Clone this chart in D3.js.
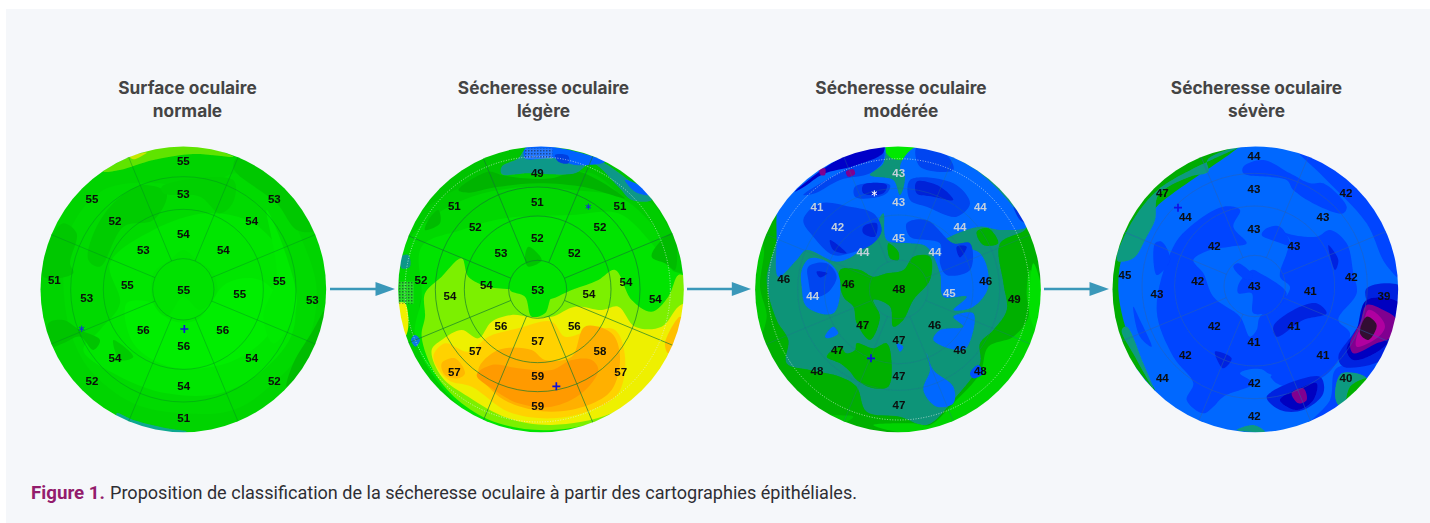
<!DOCTYPE html>
<html><head><meta charset="utf-8">
<script src="https://cdn.jsdelivr.net/npm/d3@7"></script>
<style>html,body{margin:0;padding:0;background:#fff}svg{display:block}</style>
</head><body><svg id="c" width="1430" height="523"></svg>
<script>
const titles=[["Surface oculaire","normale"],["Sécheresse oculaire","légère"],["Sécheresse oculaire","modérée"],["Sécheresse oculaire","sévère"]];
const captionLead="Figure 1.";
const captionText="Proposition de classification de la sécheresse oculaire à partir des cartographies épithéliales.";

const disc1Values=[[55,490,93],[53,490,190],[54,490,310],[55,216,205],[52,285,273],[53,370,360],[53,763,205],[54,695,273],[54,610,360],[51,103,448],[53,200,503],[55,322,463],[55,491,480],[55,659,492],[55,778,453],[53,877,510],[56,370,598],[56,608,598],[56,491,648],[54,285,683],[54,695,683],[52,216,752],[52,763,752],[54,491,768],[51,491,864]];
const disc2Values=[[49,457,127],[51,457,214],[52,457,323],[51,208,228],[52,271,290],[53,348,367],[51,705,228],[52,645,290],[52,568,367],[52,108,448],[54,195,498],[54,304,463],[53,458,478],[54,612,490],[54,723,455],[54,811,505],[56,348,586],[56,568,586],[57,458,631],[57,271,663],[58,645,663],[57,208,725],[57,707,725],[59,458,738],[59,458,827]];
const disc3Values=[[43,476,127,1],[43,476,214,1],[45,476,322,1],[41,231,229,1],[42,293,290,1],[44,369,366,1],[44,721,229,1],[44,660,290,1],[44,585,366,1],[46,131,447],[44,218,497,1],[46,325,462],[48,477,477],[45,628,487,1],[46,737,453],[49,823,505],[47,368,585],[46,584,585],[47,477,628],[47,292,660],[46,660,660],[48,231,722],[48,721,722],[47,477,736],[47,477,824]];
const disc4Values=[[44,492,78],[43,492,175],[43,492,296],[47,217,188],[44,286,260],[42,373,347],[42,768,188],[43,699,260],[43,612,346],[45,105,435],[43,201,491],[42,323,452],[43,493,467],[41,661,481],[42,784,441],[39,882,497],[42,373,587],[41,612,587],[41,492,636],[42,286,674],[41,699,674],[44,217,743],[40,768,743],[42,493,759],[42,493,856]];

const disc1Regions=[
["#00da00",[[150,300],[250,180],[420,160],[530,190],[650,130],[780,210],[850,340],[890,480],[860,640],[760,760],[640,840],[490,850],[340,820],[210,720],[150,600],[130,430]]],
["#00e600",[[270,400],[400,300],[560,250],[700,280],[800,400],[820,600],[730,720],[600,790],[440,790],[300,740],[190,660],[240,600],[300,520]]],
["#00ee00",[[320,520],[400,520],[450,570],[530,570],[620,460],[720,450],[780,520],[740,620],[620,700],[450,710],[340,640]]],
["#00e200",[[400,430],[450,390],[490,360],[530,390],[580,430],[590,490],[540,540],[490,500],[440,560],[400,520]]],
["#00ea00",[[740,240],[800,380],[830,520],[800,600],[760,640],[730,560],[770,440]]],
["#00cc00",[[205,390],[225,300],[290,210],[370,165],[440,190],[400,270],[310,290],[240,410]]],
["#00d000",[[425,170],[640,150],[640,215],[600,250],[540,200],[430,190]]],
["#00c800",[[650,85],[760,130],[885,300],[830,300],[770,220],[650,130],[640,110]]],
["#00c800",[[95,320],[130,280],[170,310],[150,400],[160,430],[70,440]]],
["#00c400",[[85,580],[130,570],[180,600],[240,630],[220,660],[180,620],[130,640],[95,650]]],
["#00cc00",[[280,630],[340,680],[300,690]]],
["#00bc00",[[915,540],[910,600],[850,720],[800,770],[820,700],[880,600]]],
["#5fe400",[[250,125],[330,80],[450,45],[530,45],[640,80],[520,72],[400,90],[300,120]]],
["#c8e800",[[330,80],[380,68],[340,88]]],
["#10a890",[[290,850],[340,870],[440,895],[500,905],[400,915],[300,880]]]
];
const disc2Regions=[
["#00cc00",[[-20,330],[110,240],[230,170],[350,130],[480,130],[620,130],[720,200],[800,220],[860,310],[940,440],[1000,950],[-20,950]]],
["#00d800",[[60,350],[130,270],[260,200],[430,170],[560,180],[700,200],[780,260],[830,330],[860,440],[800,470],[700,420],[400,420],[200,420],[110,500],[100,620],[50,520]]],
["#00e400",[[110,350],[230,300],[360,265],[560,255],[700,250],[800,340],[860,420],[905,440],[905,620],[830,760],[680,860],[500,905],[300,880],[170,770],[90,620],[110,500]]],
["#7cf000",[[120,560],[120,490],[170,440],[230,385],[250,440],[310,470],[390,480],[480,510],[560,480],[640,450],[690,420],[740,510],[800,545],[850,500],[880,435],[900,440],[910,600],[830,760],[680,860],[500,900],[340,880],[230,820],[150,730],[110,620]]],
["#00e400",[[375,480],[420,430],[500,420],[540,470],[500,500],[480,550],[440,560],[420,500]]],
["#eef000",[[140,660],[170,630],[230,600],[280,625],[320,575],[380,555],[430,560],[500,560],[570,530],[650,540],[700,530],[750,590],[830,590],[880,530],[905,520],[900,640],[830,750],[680,850],[500,885],[370,865],[250,800],[170,740]]],
["#ffd200",[[145,680],[180,640],[250,665],[310,620],[400,595],[500,575],[540,620],[620,600],[690,600],[720,680],[700,790],[620,840],[500,865],[370,845],[260,770],[190,750]]],
["#ffb800",[[170,700],[210,685],[240,730],[220,745],[180,735]]],
["#ffb000",[[280,720],[340,660],[440,660],[480,690],[560,680],[600,590],[680,610],[705,680],[680,780],[610,825],[500,845],[390,825],[330,790]]],
["#ff9a00",[[275,735],[320,705],[400,715],[500,720],[560,690],[620,690],[640,720],[590,790],[500,830],[400,820],[320,775]]],
["#ffc000",[[840,640],[885,560],[895,590],[850,670]]],
["#f0f000",[[40,520],[60,520],[70,590],[60,620],[45,580]]],
["#00b400",[[220,180],[310,125],[350,135],[420,145],[500,145],[580,125],[720,205],[690,198],[600,172],[460,160],[330,172],[250,188]]],
["#00bc00",[[130,270],[160,240],[165,280],[120,300]]],
["#00bc00",[[800,380],[830,330],[865,310],[870,420],[840,400]]],
["#00c400",[[430,350],[470,390],[430,410],[420,390]]],
["#109888",[[350,110],[400,85],[420,60],[500,50],[570,70],[650,95],[730,150],[800,210],[740,210],[700,170],[620,100],[570,130],[430,130],[350,132]]],
["#0062ff",[[420,55],[500,50],[660,95],[570,105],[510,85],[420,85]]],
["#0040e0",[[510,75],[550,78],[550,100],[520,95]]],
["#0060ff",[[720,150],[770,170],[792,195],[750,185]]],
["#109888",[[48,380],[70,375],[75,410],[50,415]]],
["#0a78e0",[[78,630],[90,615],[105,630],[92,650]]]
];
const disc3Regions=[
["#0b9478",[[120,250],[200,170],[420,60],[540,60],[700,110],[860,290],[780,340],[790,460],[800,540],[760,600],[720,640],[720,700],[640,810],[560,885],[480,860],[380,845],[350,770],[300,740],[210,720],[140,700],[145,630],[110,570],[80,450],[110,330]]],
["#00c800",[[62,330],[48,480],[60,620],[80,560],[60,470],[72,360]]],
["#00d400",[[870,420],[905,500],[880,620],[790,770],[650,870],[560,905],[470,905],[400,885],[520,880],[570,885],[640,820],[720,730],[745,650],[820,620],[865,560],[860,490]]],
["#00c400",[[180,790],[260,850],[340,860],[300,880],[210,840]]],
["#00e800",[[430,45],[530,45],[505,85],[455,85]]],
["#00e000",[[880,400],[905,480],[890,600],[870,560],[870,470]]],
["#0b9478",[[455,110],[500,110],[495,170],[480,195],[465,170]]],
["#00b000",[[310,500],[300,420],[360,420],[400,440],[440,430],[490,420],[520,380],[570,380],[570,450],[520,510],[490,570],[460,590],[450,530],[400,510],[420,560],[390,630],[350,580],[340,530]]],
["#00b000",[[260,680],[300,650],[320,670],[345,660],[350,640],[400,655],[440,640],[455,700],[445,770],[400,775],[350,750],[330,725],[300,700]]],
["#00b000",[[445,340],[475,365],[475,390],[450,385]]],
["#00b000",[[710,305],[745,295],[775,340],[730,345]]],
["#0068ff",[[115,440],[110,330],[115,225],[150,170],[300,70],[430,40],[430,100],[390,135],[460,150],[480,195],[495,140],[480,110],[530,50],[700,115],[840,255],[860,290],[780,300],[720,290],[630,320],[600,340],[720,370],[745,470],[700,530],[640,540],[680,500],[610,500],[600,430],[560,350],[510,340],[440,330],[430,250],[400,300],[350,370],[290,395],[200,360],[170,390]]],
["#0068ff",[[185,420],[210,385],[270,400],[300,450],[280,550],[200,530],[185,470]]],
["#0068ff",[[640,560],[700,550],[695,620],[670,660],[580,630],[600,600],[670,590]]],
["#0068ff",[[255,620],[280,590],[295,610],[265,625]]],
["#0068ff",[[560,670],[580,720],[640,770],[640,820],[590,830],[550,780],[570,720]]],
["#0050ff",[[690,730],[715,705],[730,730],[700,745]]],
["#0068ff",[[470,640],[490,650],[480,665]]],
["#0044f0",[[190,270],[240,220],[330,230],[400,250],[425,300],[400,340],[330,370],[280,375],[220,320]]],
["#0044f0",[[510,150],[640,160],[690,220],[650,260],[560,230],[510,210]]],
["#0044f0",[[500,280],[560,270],[640,340],[690,340],[690,420],[620,435],[600,400],[600,340],[510,320]]],
["#0044f0",[[205,410],[260,400],[290,440],[260,490],[220,500],[205,450]]],
["#0044f0",[[345,170],[450,165],[440,190],[390,205],[345,200]]],
["#0044f0",[[530,50],[620,75],[640,120],[540,110]]],
["#0044f0",[[190,195],[340,105],[430,60],[430,92],[390,130],[300,150],[225,190]]],
["#0020d8",[[370,165],[440,165],[430,190],[370,190]]],
["#0020d8",[[530,155],[600,170],[640,210],[580,200],[530,190]]],
["#0020d8",[[370,290],[410,280],[405,320],[370,310]]],
["#0020d8",[[270,330],[320,370],[280,360]]],
["#0020d8",[[230,425],[262,430],[240,442]]],
["#0020d8",[[650,350],[680,350],[660,382]]],
["#0000c8",[[165,185],[300,85],[430,40],[430,68],[340,108],[250,132],[190,172]]],
["#0030e0",[[820,230],[860,280],[840,270]]],
["#800090",[[238,120],[255,115],[255,135],[242,135]]],
["#800090",[[318,125],[340,118],[345,132],[325,140]]]
];
const disc4Regions=[
["#00ac00",[[455,40],[360,62],[200,150],[95,290],[55,450],[80,620],[195,780],[130,660],[85,480],[110,340],[200,230]]],
["#109a80",[[460,46],[352,90],[355,125],[300,140],[205,195],[195,270],[170,320],[130,385],[82,392],[108,308],[206,178]]],
["#109a80",[[95,600],[135,680],[190,775],[160,700],[110,590]]],
["#0044ff",[[200,540],[250,350],[300,290],[400,230],[450,240],[430,290],[470,340],[420,350],[360,360],[310,390],[340,430],[370,500],[450,560],[480,620],[500,600],[510,560],[580,510],[600,470],[570,440],[590,370],[600,330],[560,290],[590,310],[680,320],[720,300],[770,340],[790,430],[800,490],[745,570],[780,610],[745,690],[700,740],[600,770],[560,760],[520,720],[470,720],[450,730],[490,760],[400,800],[370,830],[340,850],[290,810],[310,760],[250,680]]],
["#0044ff",[[485,420],[510,430],[590,490],[550,540],[490,550],[485,490],[445,490],[445,465]]],
["#0044ff",[[430,410],[445,400],[490,440],[470,450]]],
["#0044ff",[[460,110],[520,90],[600,130],[660,160],[700,160],[770,230],[760,250],[690,230],[610,180],[590,150],[460,130]]],
["#0044ff",[[620,60],[750,120],[900,310],[935,450],[885,400],[830,280],[700,140]]],
["#0044ff",[[130,530],[150,570],[185,650],[150,620]]],
["#0044ff",[[195,340],[215,335],[240,390],[200,435]]],
["#0044ff",[[530,295],[570,290],[600,345],[560,335],[515,315]]],
["#0044ff",[[660,880],[720,810],[735,720],[780,700],[860,680],[780,830]]],
["#0068ff",[[470,725],[545,735],[500,760]]],
["#0024e0",[[550,590],[620,535],[680,520],[710,550],[640,570],[560,620]]],
["#0024e0",[[715,345],[745,390],[735,420]]],
["#0024e0",[[375,665],[425,685],[400,715]]],
["#0024e0",[[830,475],[935,470],[935,580],[885,685],[760,710],[745,680],[790,610],[830,540]]],
["#0000c0",[[830,510],[930,520],[920,600],[870,660],[790,690],[770,660],[800,600]]],
["#800090",[[830,525],[880,540],[920,570],[905,620],[860,640],[790,670],[780,640],[810,580]]],
["#b000a0",[[835,540],[865,555],[885,590],[860,625],[800,650],[800,620],[820,580]]],
["#301030",[[830,560],[860,585],[835,630],[810,610]]],
["#0024e0",[[530,800],[690,740],[700,790],[640,840],[570,840]]],
["#0000c0",[[570,810],[640,770],[680,760],[670,810],[620,840]]],
["#800090",[[605,790],[640,775],[650,810],[625,820]]],
["#109a80",[[735,790],[755,730],[830,745],[770,825],[745,825]]],
["#00b000",[[780,770],[830,745],[770,825]]],
["#109a80",[[440,900],[490,885],[525,905]]]
];
const disc1Marks=[["+",493,597,"#1414d8"],["*",185,596,"#1430d8"]];
const disc2Marks=[["+",514,769,"#1010d8"],["*",610,230,"#1430d8"]];
const disc3Marks=[["+",393,685,"#1010d8"],["*",403,190,"#ffffff"]];
const disc4Marks=[["+",264,233,"#1010e8"]];

const panels=[
 {left:20,base:"#00d400",cx:490,cy:478,gx:490,gy:478,rings:[92,240,338],dot:0,grid:"#008a20",gridOp:.5,values:disc1Values,regions:disc1Regions,marks:disc1Marks},
 {left:385,base:"#00c400",cx:468,cy:478,gx:458,gy:478,rings:[87,220,307],dot:398,grid:"#107a30",gridOp:.8,values:disc2Values,regions:disc2Regions,marks:disc2Marks},
 {left:740,base:"#00b000",cx:474,cy:478,gx:476,gy:478,rings:[88,223,303],dot:392,grid:"#207090",gridOp:.4,values:disc3Values,regions:disc3Regions,marks:disc3Marks},
 {left:1090,base:"#0068ff",cx:496,cy:478,gx:494,gy:468,rings:[92,240,338],dot:0,grid:"#2a60b0",gridOp:.6,values:disc4Values,regions:disc4Regions,marks:disc4Marks}
];
const arrowsX=[[330,395],[687,751],[1044,1109]];
const titleX=[187.5,543.5,901,1256.5];

const svg=d3.select("#c");
const defs=svg.append("defs");
defs.append("filter").attr("id","soft").attr("x","-5%").attr("y","-5%").attr("width","110%").attr("height","110%").append("feGaussianBlur").attr("stdDeviation",.7);
defs.append("filter").attr("id","softT").append("feGaussianBlur").attr("stdDeviation",.25);
const pat=defs.append("pattern").attr("id","hatch").attr("width",3).attr("height",3).attr("patternUnits","userSpaceOnUse");
pat.append("rect").attr("width",3).attr("height",3).attr("fill","#ffffff").attr("fill-opacity",.15);
pat.append("rect").attr("width",1.5).attr("height",1.5).attr("fill","#102030").attr("fill-opacity",.55);

svg.append("rect").attr("x",6).attr("y",9).attr("width",1424).attr("height",514).attr("fill","#f5f7fa");

titles.forEach((t,i)=>{
  const g=svg.append("text").attr("text-anchor","middle").attr("font-family","Inter").attr("font-weight",700).attr("font-size",17.3).attr("fill","#444444");
  t.forEach((line,j)=>g.append("tspan").attr("x",titleX[i]).attr("y",94+j*22.5).text(line));
});

const lineGen=d3.line().curve(d3.curveCatmullRomClosed.alpha(.5));
panels.forEach((p,i)=>{
  const x=d3.scaleLinear().domain([0,1020]).range([p.left,p.left+340]);
  const y=d3.scaleLinear().domain([0,930]).range([130,440]);
  const r=d3.scaleLinear().domain([0,1020]).range([0,340]);
  const R=428.5;
  const clipId="clip"+i;
  defs.append("clipPath").attr("id",clipId).append("circle").attr("cx",x(p.cx)).attr("cy",y(p.cy)).attr("r",r(R));
  const clip=svg.append("g").attr("clip-path",`url(#${clipId})`);
  const map=clip.append("g").attr("filter","url(#soft)");
  map.append("circle").attr("cx",x(p.cx)).attr("cy",y(p.cy)).attr("r",r(R+4)).attr("fill",p.base);
  map.selectAll("path.reg").data(p.regions).join("path").attr("class","reg")
    .attr("fill",d=>d[0])
    .attr("d",d=>lineGen(d[1].map(q=>[x(q[0]),y(q[1])])));
  if(i===1){
    map.append("rect").attr("x",x(420)).attr("y",y(55)).attr("width",r(82)).attr("height",r(32)).attr("fill","url(#hatch)");
    map.append("rect").attr("x",x(40)).attr("y",y(455)).attr("width",r(46)).attr("height",r(66)).attr("fill","url(#hatch)");
  }
  const grid=clip.append("g").attr("fill","none").attr("stroke",p.grid).attr("stroke-opacity",p.gridOp).attr("stroke-width",.85);
  grid.selectAll("circle.ring").data(p.rings).join("circle").attr("class","ring")
    .attr("cx",x(p.gx)).attr("cy",y(p.gy)).attr("r",d=>r(d));
  const ang=d3.range(8).map(k=>(22.5+45*k)*Math.PI/180);
  grid.selectAll("line.sp").data(ang).join("line").attr("class","sp")
    .attr("x1",a=>x(p.gx)+r(p.rings[0])*Math.sin(a)).attr("y1",a=>y(p.gy)-r(p.rings[0])*Math.cos(a))
    .attr("x2",a=>x(p.gx)+r(R+10)*Math.sin(a)).attr("y2",a=>y(p.gy)-r(R+10)*Math.cos(a));
  if(p.dot){
    clip.append("circle").attr("cx",x(p.gx)).attr("cy",y(p.gy)).attr("r",r(p.dot)).attr("fill","none")
      .attr("stroke","#e8f4f0").attr("stroke-opacity",.75).attr("stroke-width",.9).attr("stroke-dasharray","1 1.6");
  }
  const labels=clip.append("g").attr("filter","url(#softT)").attr("text-anchor","middle").attr("font-family","Liberation Sans").attr("font-weight",700).attr("font-size",11.5);
  labels.selectAll("text").data(p.values).join("text")
    .attr("x",d=>x(d[1])).attr("y",d=>y(d[2])+4.2)
    .attr("fill",d=>d[3]?"#c4d0dc":"#0a0a0a").text(d=>d[0]);
  const mk=clip.append("g");
  p.marks.forEach(m=>{
    const mx=x(m[1]),my=y(m[2]);
    const s=m[0]==="+"?4:3;
    const dirs=m[0]==="+"?[0,90]:[0,60,120];
    dirs.forEach(a=>{
      const c=Math.cos(a*Math.PI/180)*s,n=Math.sin(a*Math.PI/180)*s;
      mk.append("line").attr("x1",mx-n).attr("y1",my-c).attr("x2",mx+n).attr("y2",my+c)
        .attr("stroke",m[3]).attr("stroke-width",m[0]==="+"?1.7:1);
    });
  });
});

arrowsX.forEach(a=>{
  const ax=d3.scaleLinear().domain([0,1]).range(a);
  svg.append("line").attr("x1",ax(0)).attr("x2",ax(.72)).attr("y1",289).attr("y2",289).attr("stroke","#3a98b9").attr("stroke-width",2.6);
  svg.append("path").attr("d",d3.line()([[ax(.7),282],[ax(1),289],[ax(.7),296]])+"Z").attr("fill","#3a98b9");
});

const cap=svg.append("g").attr("font-family","Roboto");
cap.append("text").attr("x",31).attr("y",499).attr("font-size",19).attr("font-weight",700).attr("fill","#931c6c")
  .attr("textLength",74).attr("lengthAdjust","spacingAndGlyphs").text(captionLead);
cap.append("text").attr("x",110).attr("y",499).attr("font-size",19).attr("fill","#2e2e33")
  .attr("textLength",747).attr("lengthAdjust","spacingAndGlyphs").text(captionText);
</script></body></html>
